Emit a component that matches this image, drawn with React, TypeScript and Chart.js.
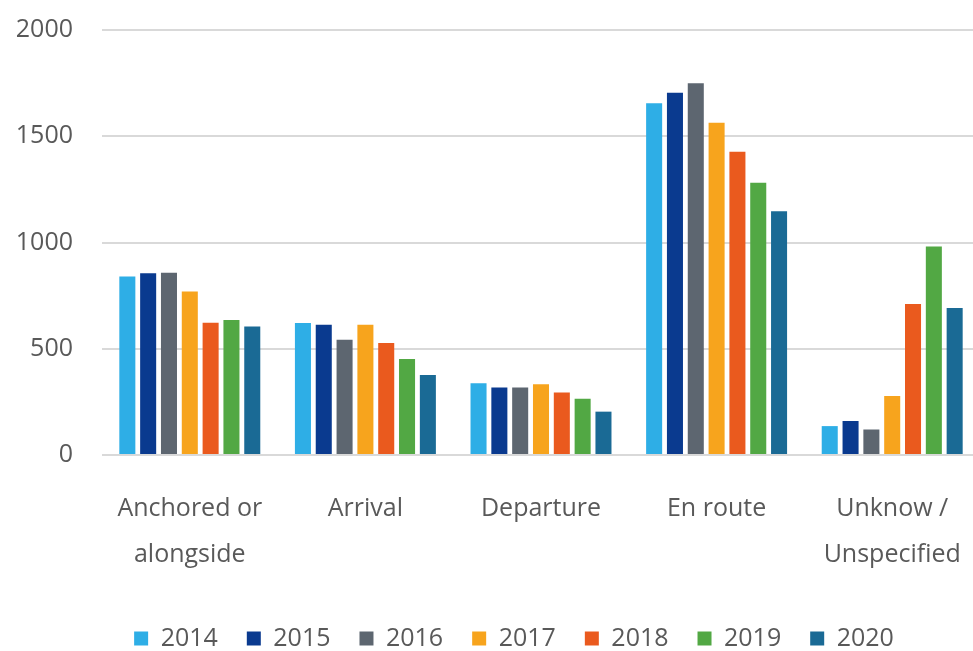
import React, { useEffect, useRef } from "react";
import { Chart, registerables } from "chart.js";

Chart.register(...registerables);

const categories: (string | string[])[] = [
  ["Anchored or", "alongside"],
  "Arrival",
  "Departure",
  "En route",
  ["Unknow /", "Unspecified"],
];

const years = ["2014", "2015", "2016", "2017", "2018", "2019", "2020"];

const v2014 = [840, 621, 338, 1655, 136];
const v2015 = [855, 613, 318, 1705, 160];
const v2016 = [858, 542, 318, 1750, 120];
const v2017 = [770, 613, 333, 1563, 278];
const v2018 = [622, 527, 294, 1427, 711];
const v2019 = [635, 452, 265, 1281, 981];
const v2020 = [605, 376, 204, 1147, 692];

const yTicks = [0, 500, 1000, 1500, 2000];

const colors = ["#2eaee6", "#0a3a8f", "#5d6670", "#f7a41d", "#ea5a1e", "#52a844", "#1a6a95"];

export default function App() {
  const ref = useRef<HTMLCanvasElement | null>(null);
  useEffect(() => {
    if (!ref.current) return;
    const series = [v2014, v2015, v2016, v2017, v2018, v2019, v2020];
    const font = { family: "'Open Sans', sans-serif", size: 25 };
    const chart = new Chart(ref.current, {
      type: "bar",
      data: {
        labels: categories,
        datasets: series.map((d, i) => ({
          label: years[i],
          data: d,
          backgroundColor: colors[i],
          categoryPercentage: 0.83,
          barPercentage: 0.77,
        })),
      },
      options: {
        responsive: false,
        animation: false,
        devicePixelRatio: 1,
        layout: { padding: { top: 30, left: 16, right: 10, bottom: -10 } },
        plugins: {
          tooltip: { enabled: false },
          legend: {
            position: "bottom",
            labels: {
              boxWidth: 14,
              boxHeight: 14,
              padding: 29,
              color: "#595959",
              font,
            },
          },
        },
        scales: {
          x: {
            grid: { display: false },
            border: { display: false },
            ticks: {
              color: "#595959",
              font: { ...font, lineHeight: 1.84 },
              padding: 23,
              maxRotation: 0,
              autoSkip: false,
            },
            afterFit: (scale: any) => {
              scale.height = 142;
              scale.paddingLeft = 0;
              scale.paddingRight = 0;
            },
          },
          y: {
            min: yTicks[0],
            max: yTicks[yTicks.length - 1],
            afterBuildTicks: (scale: any) => {
              scale.ticks = yTicks.map((v) => ({ value: v }));
            },
            afterFit: (scale: any) => {
              scale.width = 86;
              scale.paddingTop = 0;
              scale.paddingBottom = 0;
            },
            grid: { color: "#d9d9d9", lineWidth: 2, drawTicks: false },
            border: { display: false },
            ticks: {
              color: "#595959",
              font,
              padding: 29,
              callback: (v: any) => String(v),
            },
          },
          spacer: {
            type: "linear",
            position: "right",
            display: true,
            grid: { display: false, drawTicks: false },
            border: { display: false },
            ticks: { display: false },
            afterFit: (scale: any) => {
              scale.width = 32;
              scale.paddingTop = 0;
              scale.paddingBottom = 0;
            },
          },
        },
      },
    } as any);
    return () => chart.destroy();
  }, []);
  return (
    <div style={{ position: "fixed", left: 0, top: 0, width: 973, height: 651, overflow: "hidden", background: "#fff" }}>
      <canvas ref={ref} width={1022} height={651} style={{ width: 1022, height: 651, display: "block" }} />
    </div>
  );
}
